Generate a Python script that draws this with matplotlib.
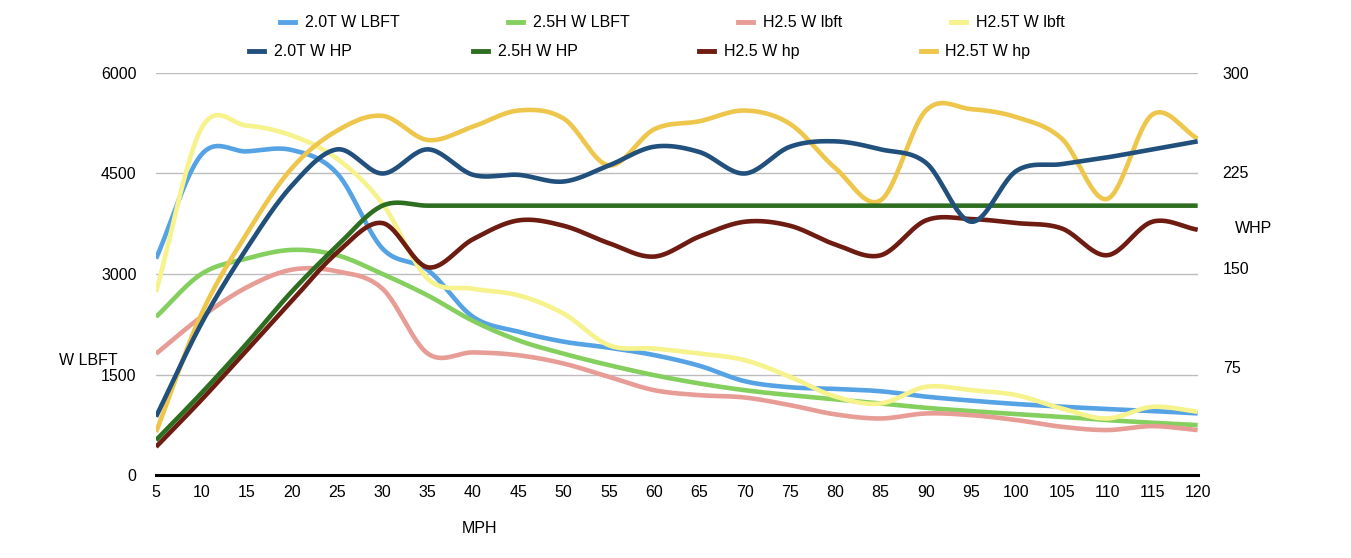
import numpy as np
import matplotlib
matplotlib.use("Agg")
import matplotlib.pyplot as plt
from matplotlib.lines import Line2D

plt.rcParams['font.family'] = ['Liberation Sans', 'DejaVu Sans']

# ---------------- data ----------------
mph = [5, 10, 15, 20, 25, 30, 35, 40, 45, 50, 55, 60, 65, 70, 75, 80,
       85, 90, 95, 100, 105, 110, 115, 120]

# wheel torque (left axis, lb-ft)
lbft_20T = [3230, 4780, 4830, 4850, 4500, 3380, 3060, 2360, 2140, 1990, 1900, 1790,
            1630, 1400, 1310, 1285, 1250, 1170, 1110, 1060, 1020, 985, 955, 920]
lbft_25H = [2360, 3000, 3230, 3360, 3280, 3000, 2680, 2300, 2010, 1810, 1640, 1490,
            1366, 1266, 1192, 1130, 1068, 1003, 954, 909, 869, 820, 780, 745]
lbft_H25 = [1810, 2360, 2800, 3065, 3040, 2780, 1813, 1830, 1788, 1664, 1465, 1266,
            1192, 1157, 1043, 905, 844, 919, 894, 820, 720, 671, 730, 671]
lbft_H25T = [2730, 5170, 5215, 5066, 4720, 4050, 2930, 2780, 2682, 2409, 1937, 1887,
             1813, 1714, 1465, 1170, 1068, 1316, 1267, 1192, 993, 844, 1018, 944]

# wheel horsepower (right axis, hp)
hp_20T = [43.5, 113, 169, 216, 243, 225, 243, 224, 224, 219, 231, 245,
          241, 225, 245, 249, 243, 233, 189, 227, 232, 237, 243, 249]
hp_25H = [26, 61, 98, 137, 171, 201, 201, 201, 201, 201, 201, 201,
          201, 201, 201, 201, 201, 201, 201, 201, 201, 201, 201, 201]
hp_H25 = [21, 56, 93, 130, 166, 188, 155, 176, 190, 186, 173, 163,
          178, 189, 186, 172, 164, 190, 191, 188, 184, 164, 189, 183]
hp_H25T = [32, 120, 180, 229, 257, 268, 250, 260, 272, 266, 231, 258,
           264, 272, 262, 229, 205, 272, 273, 267, 251, 206, 269, 251]

left_ticks = [0, 1500, 3000, 4500, 6000]
right_tick_labels = ["75", "150", "225", "300"]

lbft_series = [("2.0T W LBFT", lbft_20T, "#55A3E4"),
               ("2.5H W LBFT", lbft_25H, "#84CF5E"),
               ("H2.5 W lbft", lbft_H25, "#E89C96"),
               ("H2.5T W lbft", lbft_H25T, "#F6F28C")]
hp_series = [("2.0T W HP", hp_20T, "#22507C"),
             ("2.5H W HP", hp_25H, "#2E6E20"),
             ("H2.5 W hp", hp_H25, "#6E1C12"),
             ("H2.5T W hp", hp_H25T, "#EEC64C")]


def smooth(x, y, n=24):
    """Uniform Catmull-Rom spline through the data points."""
    x = np.asarray(x, float)
    y = np.asarray(y, float)
    px = np.concatenate([[2 * x[0] - x[1]], x, [2 * x[-1] - x[-2]]])
    py = np.concatenate([[2 * y[0] - y[1]], y, [2 * y[-1] - y[-2]]])
    xs, ys = [], []
    t = np.linspace(0, 1, n, endpoint=False)
    for i in range(1, len(px) - 2):
        for arr, out in ((px, xs), (py, ys)):
            p0, p1, p2, p3 = arr[i - 1], arr[i], arr[i + 1], arr[i + 2]
            out.append(0.5 * (2 * p1 + (-p0 + p2) * t
                              + (2 * p0 - 5 * p1 + 4 * p2 - p3) * t ** 2
                              + (-p0 + 3 * p1 - 3 * p2 + p3) * t ** 3))
    xs.append([x[-1]])
    ys.append([y[-1]])
    return np.concatenate(xs), np.concatenate(ys)


fig = plt.figure(figsize=(13.51, 5.58), dpi=100)
ax = fig.add_axes([0.1155, 0.1487, 0.771, 0.7205])
ax2 = ax.twinx()

ax.set_xlim(mph[0], mph[-1])
ax.set_ylim(0, 6000)
ax2.set_ylim(0, 300)

lw = 3.3
handles1 = []
for name, vals, col in lbft_series:
    sx, sy = smooth(mph, vals)
    ax.plot(sx, sy, color=col, lw=lw, solid_capstyle='butt', zorder=3)
    handles1.append(Line2D([], [], color=col, lw=3.5, label=name))

handles2 = []
draw_order = [3, 2, 1, 0]
for idx in draw_order:
    name, vals, col = hp_series[idx]
    sx, sy = smooth(mph, vals)
    ax2.plot(sx, sy, color=col, lw=lw, solid_capstyle='butt', zorder=3)
for name, vals, col in hp_series:
    handles2.append(Line2D([], [], color=col, lw=3.5, label=name))

# grid & axes styling
ax.set_yticks(left_ticks)
ax.set_yticklabels([str(v) for v in left_ticks])
ax.set_xticks(mph)
ax.set_xticklabels([str(v) for v in mph])
for v in left_ticks[1:]:
    ax.axhline(v, color="#BDBDBD", lw=1.0, zorder=1)
for s in ["top", "right", "left"]:
    ax.spines[s].set_visible(False)
    ax2.spines[s].set_visible(False)
ax2.spines["bottom"].set_visible(False)
ax.spines["bottom"].set_linewidth(2.2)
ax.spines["bottom"].set_color("black")
ax.spines["bottom"].set_zorder(5)
ax.tick_params(axis='y', length=0, pad=14, labelsize=11.5)
ax.tick_params(axis='x', length=0, pad=7, labelsize=11.5)
# right-axis labels sit slightly above their gridlines in the reference
ax2.set_yticks([80.6, 154.6, 226, 300])
ax2.set_yticklabels(right_tick_labels)
ax2.tick_params(axis='y', length=0, pad=18, labelsize=11.5)

ax.text(-0.0648, 0.286, "W LBFT", transform=ax.transAxes, ha='center', va='center', fontsize=11.5)
ax.text(1.054, 0.612, "WHP", transform=ax.transAxes, ha='center', va='center', fontsize=11.5)
ax.text(0.311, -0.132, "MPH", transform=ax.transAxes, ha='center', va='center', fontsize=11.5)

leg1 = fig.legend(handles=handles1, loc='center left', bbox_to_anchor=(0.2073, 0.9595),
                  ncol=4, frameon=False, fontsize=11.5, handlelength=0.95,
                  handletextpad=0.6, columnspacing=6.8, borderpad=0, borderaxespad=0)
leg2 = fig.legend(handles=handles2, loc='center left', bbox_to_anchor=(0.1843, 0.9075),
                  ncol=4, frameon=False, fontsize=11.5, handlelength=0.95,
                  handletextpad=0.6, columnspacing=7.6, borderpad=0, borderaxespad=0)

fig.savefig("out.png", dpi=100, facecolor="white")
